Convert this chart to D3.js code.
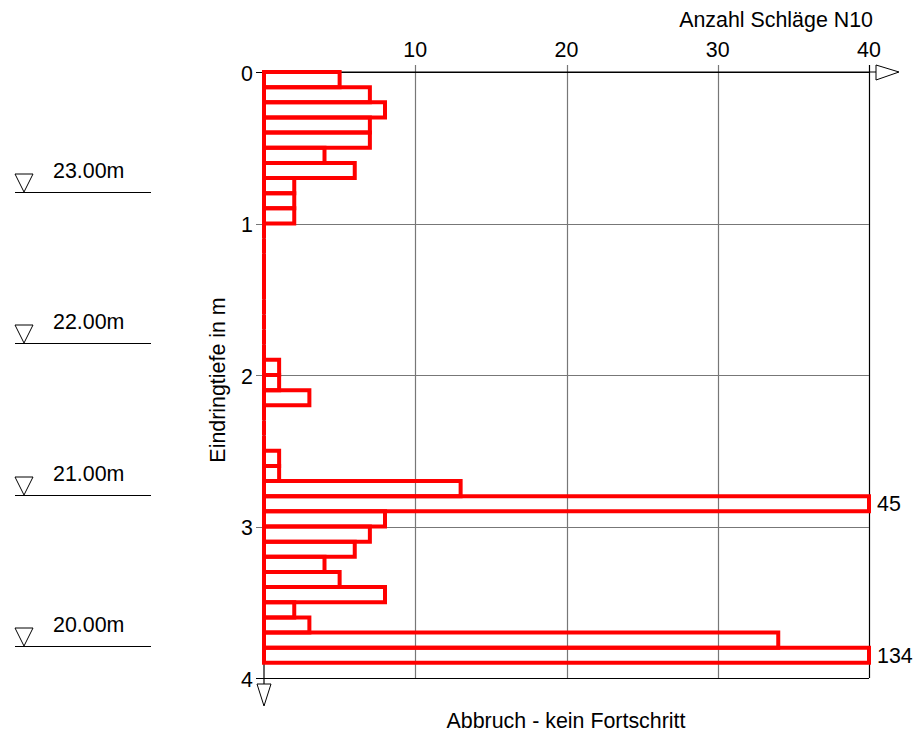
<!DOCTYPE html>
<html>
<head>
<meta charset="utf-8">
<title>Rammsondierung</title>
<script src="https://d3js.org/d3.v7.min.js"></script>
<style>
  body { margin: 0; background: #fff; }
  text { font-family: "Liberation Sans", Arial, sans-serif; font-size: 21.4px; fill: #000; }
</style>
</head>
<body>
<script>
// Schlagzahlen N10 je 10 cm, ab 0.0 m
var depthStart = 0, depthStep = 0.1;
var blows = [5, 7, 8, 7, 7, 4, 6, 2, 2, 2,
             0, 0, 0, 0, 0, 0, 0, 0, 0,
             1, 1, 3, 0, 0, 0, 1, 1, 13, 45,
             8, 7, 6, 4, 5, 8, 2, 3, 34, 134];
var xTicks = [10, 20, 30, 40];
var yTicks = [0, 1, 2, 3, 4];
// Höhenkoten links, Ansatzpunkt ca. 23.79 m
var groundLevel = 23.79;
var levels = [23.00, 22.00, 21.00, 20.00];

var W = 917, H = 735;
var svg = d3.select("body").append("svg")
    .attr("width", W).attr("height", H);

var x = d3.scaleLinear().domain([0, 40]).range([264, 869]).clamp(true);
var y = d3.scaleLinear().domain([0, 4]).range([72, 678]);

// gitter
svg.selectAll(".vgrid").data(xTicks).enter().append("line")
    .attr("x1", function(d) { return Math.round(x(d)) + 0.5; })
    .attr("x2", function(d) { return Math.round(x(d)) + 0.5; })
    .attr("y1", 65).attr("y2", y(4))
    .attr("stroke", function(d) { return d == 40 ? "#000" : "#777"; })
    .attr("stroke-width", 1.2);
svg.selectAll(".hgrid").data(yTicks).enter().append("line")
    .attr("x1", 256).attr("x2", x(40))
    .attr("y1", function(d) { return Math.round(y(d)) + 0.5; })
    .attr("y2", function(d) { return Math.round(y(d)) + 0.5; })
    .attr("stroke", function(d) { return (d == 0 || d == 4) ? "#000" : "#777"; })
    .attr("stroke-width", 1.2);

// achsen
svg.append("line").attr("x1", x(0)).attr("x2", 876)
    .attr("y1", y(0)).attr("y2", y(0)).attr("stroke", "#000").attr("stroke-width", 1.2);
svg.append("line").attr("x1", x(0)).attr("x2", x(0))
    .attr("y1", y(0)).attr("y2", 684).attr("stroke", "#000").attr("stroke-width", 1.2);
svg.append("path")
    .attr("d", "M876,65 L899,72 L876,80 Z")
    .attr("fill", "#fff").attr("stroke", "#000").attr("stroke-width", 1);
svg.append("path")
    .attr("d", "M257,684 L264,706 L271,684 Z")
    .attr("fill", "#fff").attr("stroke", "#000").attr("stroke-width", 1);

// balken (als pfad, damit auch 0 eine linie gibt)
svg.selectAll(".bar").data(blows).enter().append("path")
    .attr("d", function(d, i) {
      var y0 = y(depthStart + i * depthStep), y1 = y(depthStart + (i + 1) * depthStep);
      var p = d3.path();
      p.moveTo(x(0), y0); p.lineTo(x(d), y0); p.lineTo(x(d), y1); p.lineTo(x(0), y1); p.closePath();
      return p.toString();
    })
    .attr("fill", "none")
    .attr("stroke", "#ff0000")
    .attr("stroke-width", 4);

// werte > 40
svg.selectAll(".over").data(blows.map(function(d, i) { return {v: d, i: i}; })
      .filter(function(d) { return d.v > 40; }))
  .enter().append("text")
    .attr("x", x(40) + 8)
    .attr("y", function(d) { return y(depthStart + (d.i + 0.5) * depthStep); })
    .attr("dy", "0.35em")
    .text(function(d) { return d.v; });

// beschriftung
svg.selectAll(".xt").data(xTicks).enter().append("text")
    .attr("x", function(d) { return x(d); })
    .attr("y", 57)
    .attr("text-anchor", "middle")
    .text(function(d) { return d; });
svg.selectAll(".yt").data(yTicks).enter().append("text")
    .attr("x", 253)
    .attr("y", function(d) { return y(d) + 1.5; })
    .attr("dy", "0.35em")
    .attr("text-anchor", "end")
    .text(function(d) { return d; });

svg.append("text").attr("x", 873).attr("y", 27)
    .attr("text-anchor", "end").text("Anzahl Schläge N10");
svg.append("text")
    .attr("transform", "translate(225,380) rotate(-90)")
    .attr("text-anchor", "middle").text("Eindringtiefe in m");
svg.append("text").attr("x", 566).attr("y", 728)
    .attr("text-anchor", "middle").text("Abbruch - kein Fortschritt");

// höhen
var lv = svg.selectAll(".lv").data(levels).enter().append("g")
    .attr("transform", function(d) { return "translate(0," + Math.round(y(groundLevel - d)) + ")"; });
lv.append("line").attr("x1", 15).attr("x2", 151)
    .attr("y1", 0.5).attr("y2", 0.5).attr("stroke", "#000").attr("stroke-width", 1);
lv.append("path").attr("d", "M15,-18 L33,-18 L24,0 Z")
    .attr("fill", "#fff").attr("stroke", "#000").attr("stroke-width", 1);
lv.append("text").attr("x", 53).attr("y", -14.5)
    .text(function(d) { return d.toFixed(2) + "m"; });
</script>
</body>
</html>
